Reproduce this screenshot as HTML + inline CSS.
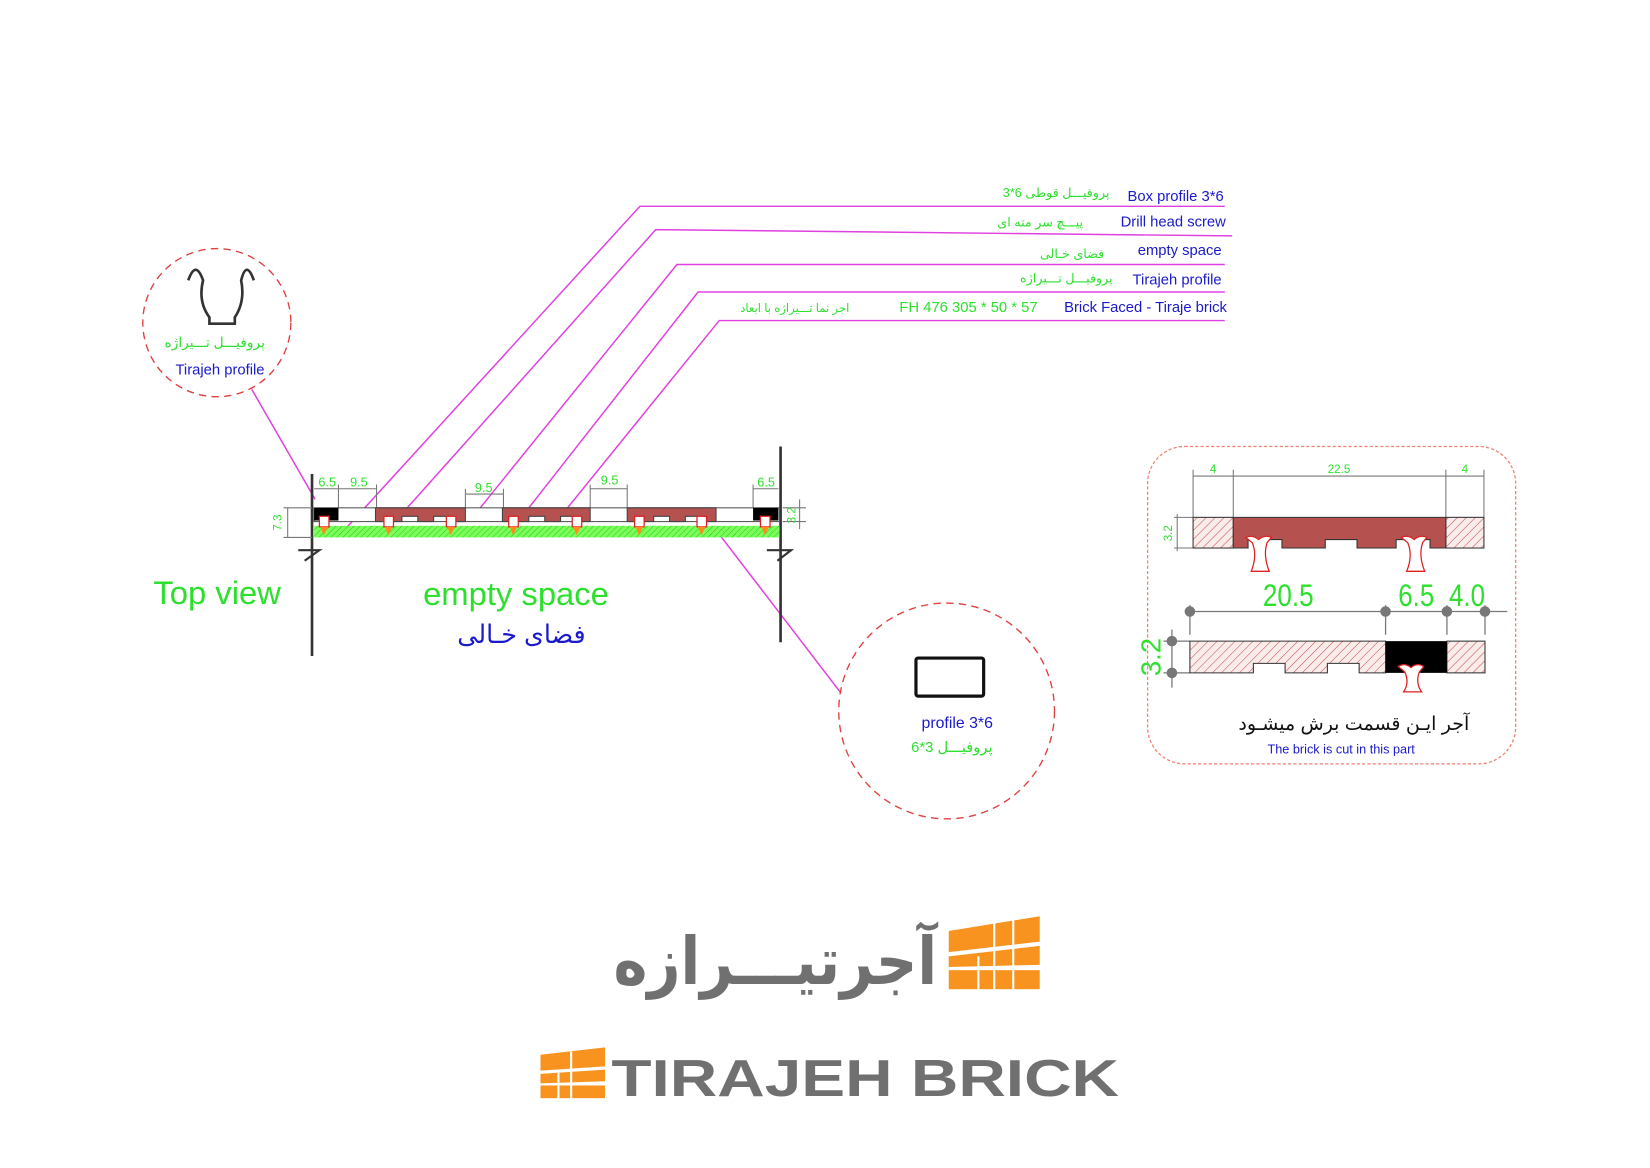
<!DOCTYPE html>
<html><head><meta charset="utf-8">
<style>
html,body{margin:0;padding:0;background:#fff;width:1650px;height:1168px;overflow:hidden}
svg{display:block}
text{font-family:"Liberation Sans","DejaVu Sans",sans-serif}
.fa{font-family:"Liberation Sans","Noto Sans CJK SC","DejaVu Sans",sans-serif}
</style></head><body>
<svg width="1650" height="1168" viewBox="0 0 1560 1104" preserveAspectRatio="none" xmlns="http://www.w3.org/2000/svg">
<defs>
<pattern id="gh" width="4" height="4" patternUnits="userSpaceOnUse" patternTransform="rotate(45)">
<rect width="4" height="4" fill="#7dff5a"/><line x1="0" y1="0" x2="0" y2="4" stroke="#2fd02f" stroke-width="1.2"/></pattern>
<pattern id="rh" width="6" height="6" patternUnits="userSpaceOnUse" patternTransform="rotate(45)">
<rect width="6" height="6" fill="#fbecec"/><line x1="0" y1="0" x2="0" y2="6" stroke="#c0504d" stroke-width="1"/></pattern>
</defs>

<g stroke="#e040e0" stroke-width="1.4" fill="none">
<polyline points="322,505 605,195 1158,195"/>
<polyline points="385,480 620,217 1165,223"/>
<polyline points="450,485 640,250 1158,250"/>
<polyline points="500,480 660,276 1158,276"/>
<polyline points="535,482 680,303 1158,303"/>
<line x1="238" y1="368" x2="298" y2="472"/>
<line x1="680" y1="505" x2="795" y2="655"/>
</g>

<g font-size="14">
<text x="1157" y="190" fill="#1a1acc" text-anchor="end">Box profile 3*6</text>
<text x="1049" y="186" fill="#2ee02e" text-anchor="end" class="fa" font-size="12">3*6  پروفیـــل قوطی</text>
<text x="1159" y="214" fill="#1a1acc" text-anchor="end">Drill head screw</text>
<text x="1024" y="214" fill="#2ee02e" text-anchor="end" class="fa" font-size="12">پیـــچ سر مته ای</text>
<text x="1155" y="241" fill="#1a1acc" text-anchor="end">empty space</text>
<text x="1044" y="244" fill="#2ee02e" text-anchor="end" class="fa" font-size="12">فضای خـالی</text>
<text x="1155" y="269" fill="#1a1acc" text-anchor="end">Tirajeh profile</text>
<text x="1052" y="267" fill="#2ee02e" text-anchor="end" class="fa" font-size="12">پروفیـــل تـــیراژه</text>
<text x="1160" y="295" fill="#1a1acc" text-anchor="end">Brick Faced - Tiraje brick</text>
<text x="981" y="295" fill="#2ee02e" text-anchor="end">FH 476    305 * 50 * 57</text>
<text x="803" y="295" fill="#2ee02e" text-anchor="end" class="fa" font-size="11">اجر نما تـــیراژه با ابعاد</text>
</g>

<circle cx="205" cy="305" r="70" fill="none" stroke="#e04040" stroke-width="1.3" stroke-dasharray="7,5"/>
<path d="M178,265 Q185,245 192,265 Q187,285 198,300 L198,306 L222,306 L222,300 Q232,285 228,265 Q233,245 240,265" fill="none" stroke="#333" stroke-width="2.5"/>
<text x="203" y="328" fill="#2ee02e" text-anchor="middle" class="fa" font-size="13">پروفیـــل تـــیراژه</text>
<text x="208" y="354" fill="#1a1acc" text-anchor="middle" font-size="14">Tirajeh profile</text>

<g stroke="#333" stroke-width="2.5" fill="none">
<line x1="295" y1="448" x2="295" y2="620"/>
<line x1="738" y1="422" x2="738" y2="607"/>
</g>
<polyline points="282,520 302,520 288,530" fill="none" stroke="#333" stroke-width="2"/>
<polyline points="725,520 748,520 735,530" fill="none" stroke="#333" stroke-width="2"/>

<g stroke="#777" stroke-width="1" fill="none">
<line x1="297" y1="462" x2="356" y2="462"/><line x1="320" y1="458" x2="320" y2="480"/><line x1="356" y1="458" x2="356" y2="480"/>
<line x1="440" y1="467" x2="476" y2="467"/><line x1="440" y1="462" x2="440" y2="480"/><line x1="476" y1="462" x2="476" y2="480"/>
<line x1="558" y1="462" x2="593" y2="462"/><line x1="558" y1="458" x2="558" y2="480"/><line x1="593" y1="458" x2="593" y2="480"/>
<line x1="712" y1="462" x2="736" y2="462"/><line x1="712" y1="458" x2="712" y2="480"/>
<line x1="268" y1="480" x2="295" y2="480"/><line x1="268" y1="508" x2="295" y2="508"/><line x1="272" y1="480" x2="272" y2="508"/>
<line x1="740" y1="480" x2="762" y2="480"/><line x1="740" y1="493" x2="762" y2="493"/><line x1="756" y1="472" x2="756" y2="500"/>
</g>
<g fill="#2ee02e" font-size="12">
<text x="301" y="460">6.5</text><text x="331" y="460">9.5</text><text x="449" y="465">9.5</text>
<text x="568" y="458">9.5</text><text x="716" y="460">6.5</text>
<text x="266" y="494" transform="rotate(-90 266 494)" text-anchor="middle" font-size="11">7.3</text>
<text x="752" y="487" transform="rotate(-90 752 487)" text-anchor="middle" font-size="11">3.2</text>
</g>

<rect x="297" y="497" width="440" height="11" fill="url(#gh)"/>
<rect x="297" y="480" width="440" height="13" fill="#fff" stroke="#555" stroke-width="1"/>
<rect x="297" y="480" width="23" height="12" fill="#000"/>
<rect x="712" y="480" width="24" height="12" fill="#000"/>
<g fill="#b5524f" stroke="#444" stroke-width="1">
<path d="M355,480 H440 V493 H425 V488 H410 V493 H395 V488 H380 V493 H355 Z"/>
<path d="M475,480 H558 V493 H545 V488 H530 V493 H515 V488 H500 V493 H475 Z"/>
<path d="M593,480 H677 V493 H663 V488 H648 V493 H633 V488 H618 V493 H593 Z"/>
</g>
<g stroke="#e02020" stroke-width="1.2" fill="#fff">
<rect x="302" y="488" width="9" height="10"/><rect x="363" y="488" width="9" height="10"/>
<rect x="422" y="488" width="9" height="10"/><rect x="481" y="488" width="9" height="10"/>
<rect x="541" y="488" width="9" height="10"/><rect x="600" y="488" width="9" height="10"/>
<rect x="659" y="488" width="9" height="10"/><rect x="719" y="488" width="9" height="10"/>
</g>
<g fill="#ff8c1a">
<polygon points="303,498 310,498 306,506"/><polygon points="364,498 371,498 367,506"/>
<polygon points="423,498 430,498 426,506"/><polygon points="482,498 489,498 485,506"/>
<polygon points="542,498 549,498 545,506"/><polygon points="601,498 608,498 604,506"/>
<polygon points="660,498 667,498 663,506"/><polygon points="720,498 727,498 723,506"/>
</g>

<text x="145" y="571" fill="#2ee02e" font-size="31">Top view</text>
<text x="400" y="572" fill="#2ee02e" font-size="31">empty space</text>
<text x="493" y="608" fill="#1a1acc" text-anchor="middle" class="fa" font-size="24">فضای خـالی</text>

<circle cx="895" cy="672" r="102" fill="none" stroke="#e04040" stroke-width="1.3" stroke-dasharray="7,5"/>
<rect x="866" y="622" width="64" height="36" rx="2" fill="none" stroke="#111" stroke-width="3"/>
<text x="905" y="688" fill="#1a1acc" text-anchor="middle" font-size="15">profile 3*6</text>
<text x="900" y="711" fill="#2ee02e" text-anchor="middle" class="fa" font-size="14">پروفیـــل 3*6</text>

<rect x="1085" y="422" width="348" height="300" rx="35" fill="none" stroke="#f08070" stroke-width="1.2" stroke-dasharray="3,2"/>
<g stroke="#777" stroke-width="1">
<line x1="1128" y1="450" x2="1403" y2="450"/>
<line x1="1128" y1="444" x2="1128" y2="489"/><line x1="1166" y1="444" x2="1166" y2="489"/>
<line x1="1367" y1="444" x2="1367" y2="489"/><line x1="1403" y1="444" x2="1403" y2="489"/>
<line x1="1110" y1="489" x2="1128" y2="489"/><line x1="1110" y1="518" x2="1128" y2="518"/><line x1="1113" y1="486" x2="1113" y2="521"/>
</g>
<g fill="#2ee02e" font-size="11">
<text x="1147" y="447" text-anchor="middle">4</text><text x="1266" y="447" text-anchor="middle">22.5</text><text x="1385" y="447" text-anchor="middle">4</text>
<text x="1108" y="504" transform="rotate(-90 1108 504)" text-anchor="middle">3.2</text>
</g>
<rect x="1128" y="489" width="38" height="29" fill="url(#rh)" stroke="#333"/>
<rect x="1367" y="489" width="36" height="29" fill="url(#rh)" stroke="#333"/>
<path d="M1166,489 H1367 V518 H1352 V510 H1320 V518 H1283 V510 H1253 V518 H1212 V510 H1180 V518 H1166 Z" fill="#b5524f" stroke="#333"/>
<g fill="#fff" stroke="#e02020" stroke-width="1.2">
<path d="M1178,508 Q1184,505 1190,510 Q1196,505 1202,508 L1198,513 Q1194,525 1200,540 H1183 Q1189,525 1184,513 Z"/>
<path d="M1325,508 Q1331,505 1337,510 Q1343,505 1349,508 L1345,513 Q1341,525 1347,540 H1330 Q1336,525 1331,513 Z"/>
</g>
<g stroke="#777" stroke-width="1.2">
<line x1="1125" y1="578" x2="1425" y2="578"/>
<line x1="1125" y1="572" x2="1125" y2="600"/><line x1="1310" y1="572" x2="1310" y2="600"/>
<line x1="1368" y1="572" x2="1368" y2="600"/><line x1="1404" y1="572" x2="1404" y2="600"/>
<line x1="1100" y1="606" x2="1125" y2="606"/><line x1="1100" y1="636" x2="1125" y2="636"/><line x1="1108" y1="595" x2="1108" y2="650"/>
</g>
<g fill="#777">
<circle cx="1125" cy="578" r="5"/><circle cx="1310" cy="578" r="5"/><circle cx="1368" cy="578" r="5"/><circle cx="1404" cy="578" r="5"/>
<circle cx="1108" cy="606" r="5"/><circle cx="1108" cy="636" r="5"/>
</g>
<g fill="#2ee02e" font-size="30">
<text x="1194" y="573" textLength="48" lengthAdjust="spacingAndGlyphs">20.5</text>
<text x="1322" y="573" textLength="34" lengthAdjust="spacingAndGlyphs">6.5</text>
<text x="1370" y="573" textLength="34" lengthAdjust="spacingAndGlyphs">4.0</text>
<text x="1097" y="621" transform="rotate(-90 1097 621)" text-anchor="middle" font-size="26">3.2</text>
</g>
<path d="M1125,606 H1310 V636 H1285 V627 H1255 V636 H1215 V627 H1185 V636 H1125 Z" fill="url(#rh)" stroke="#333"/>
<rect x="1368" y="606" width="36" height="30" fill="url(#rh)" stroke="#333"/>
<rect x="1310" y="606" width="58" height="30" fill="#000"/>
<path d="M1322,630 Q1328,626 1334,631 Q1340,626 1346,630 L1342,635 Q1338,645 1344,654 H1327 Q1333,645 1328,635 Z" fill="#fff" stroke="#e02020" stroke-width="1.2"/>
<text x="1280" y="690" fill="#111" text-anchor="middle" class="fa" font-size="18">آجر ایـن قسمت برش  میشـود</text>
<text x="1268" y="712" fill="#1a1acc" text-anchor="middle" font-size="12">The brick is cut in this part</text>

<text x="886" y="930" fill="#707070" text-anchor="end" class="fa" font-size="62" font-weight="bold" textLength="306" lengthAdjust="spacingAndGlyphs">آجرتیـــرازه</text>
<g fill="#f7931e">
<polygon points="897,880 983,866 983,890 897,900"/>
<polygon points="897,904 983,894 983,912 897,914"/>
<rect x="897" y="917" width="86" height="18"/>
</g>
<g stroke="#fff" stroke-width="2"><line x1="940" y1="872" x2="940" y2="935"/><line x1="925" y1="904" x2="925" y2="935"/><line x1="958" y1="868" x2="958" y2="935"/></g>
<g fill="#f7931e">
<polygon points="511,997 572,990 572,1008 511,1012"/>
<polygon points="511,1015 572,1011 572,1022 511,1024"/>
<rect x="511" y="1026" width="61" height="12"/>
</g>
<g stroke="#fff" stroke-width="2"><line x1="540" y1="994" x2="540" y2="1038"/><line x1="528" y1="1014" x2="528" y2="1038"/></g>
<text x="578" y="1036" fill="#707070" font-size="49" font-weight="bold" textLength="480" lengthAdjust="spacingAndGlyphs">TIRAJEH BRICK</text>
</svg>
</body></html>
